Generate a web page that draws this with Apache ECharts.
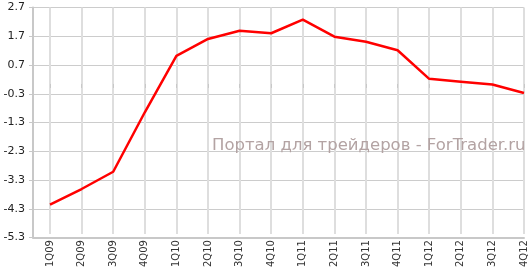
<!DOCTYPE html>
<html><head><meta charset="utf-8">
<script src="https://cdn.jsdelivr.net/npm/echarts@6/dist/echarts.min.js"></script>
<style>html,body{margin:0;padding:0;background:#fff}#c{width:529px;height:270px}</style>
</head><body><div id="c"></div>
<script>
var categories = ['1Q09','2Q09','3Q09','4Q09','1Q10','2Q10','3Q10','4Q10','1Q11','2Q11','3Q11','4Q11','1Q12','2Q12','3Q12','4Q12'];
var values = [-4.26,-3.71,-3.10,-1.00,0.99,1.59,1.88,1.79,2.27,1.67,1.49,1.19,0.18,0.08,-0.02,-0.32];
var yMin = -5.3, yMax = 2.7, yStep = 1;
var watermark = 'Портал для трейдеров - ForTrader.ru';

var chart = echarts.init(document.getElementById('c'));
var gTop = 7.5, gBottom = 32.5;
chart.setOption({
  animation: false,
  grid: [
    {left: 33, right: 5, top: gTop, bottom: gBottom},
    {left: 50, right: 5, top: gTop, bottom: gBottom}
  ],
  xAxis: [
    {gridIndex: 0, type: 'value', min: 0, max: 1, show: true,
     axisLine: {show: true, onZero: false, lineStyle: {color: '#c8c8c8', width: 2}},
     axisTick: {show: false}, axisLabel: {show: false}, splitLine: {show: false}},
    {gridIndex: 1, type: 'category', data: categories, boundaryGap: false,
     axisLine: {show: false},
     axisTick: {show: true, length: 4, inside: false, lineStyle: {color: '#c8c8c8'}},
     axisLabel: {rotate: 90, margin: 6, fontSize: 10, color: '#333', fontFamily: 'DejaVu Sans', interval: 0},
     splitLine: {show: true, interval: 0, lineStyle: {color: '#dedede', width: 2}}}
  ],
  yAxis: [
    {gridIndex: 0, type: 'value', min: yMin, max: yMax, interval: yStep,
     axisLine: {show: true, lineStyle: {color: '#c8c8c8', width: 2}},
     axisTick: {show: true, length: 4, lineStyle: {color: '#c8c8c8'}},
     axisLabel: {fontSize: 11, color: '#222', fontFamily: 'DejaVu Sans', margin: 8,
       formatter: function(v){ return (Math.round(v*10)/10).toFixed(1); }},
     splitLine: {show: true, lineStyle: {color: '#cccccc', width: 1}}},
    {gridIndex: 1, type: 'value', min: yMin, max: yMax, show: false}
  ],
  graphic: [{type: 'text', left: 212, top: 137.5, z: 100,
    style: {text: watermark, fontSize: 16.5, fontFamily: 'DejaVu Sans', fill: '#b3a3a3'}}],
  series: [{type: 'line', xAxisIndex: 1, yAxisIndex: 1, data: values, showSymbol: false,
    lineStyle: {color: '#ff0000', width: 2.5}, z: 5}]
});
</script></body></html>
